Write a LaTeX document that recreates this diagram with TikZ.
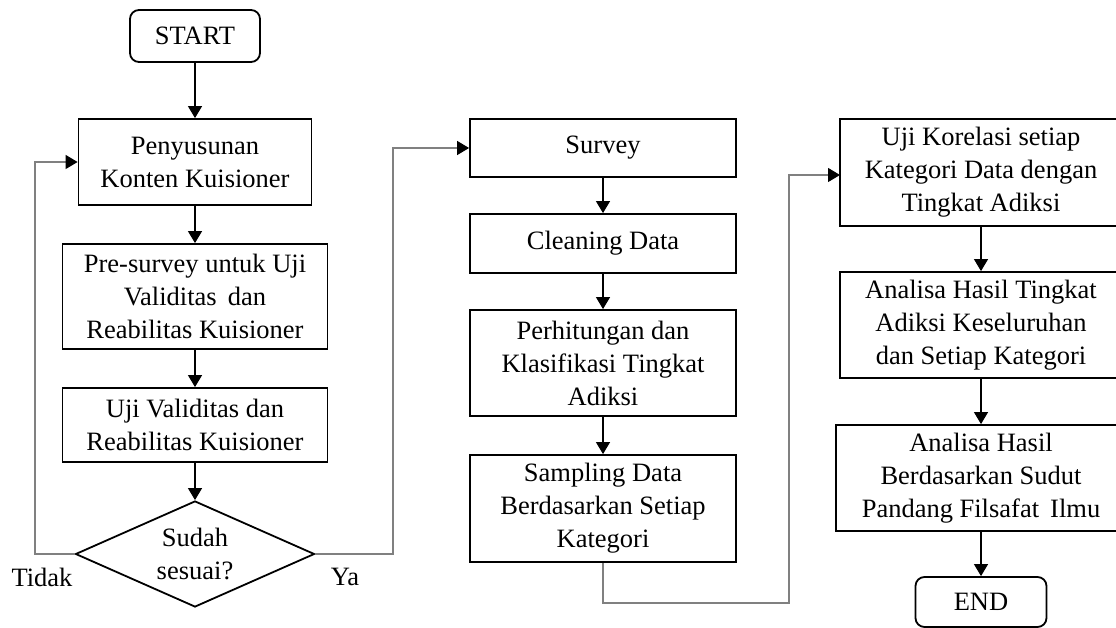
\documentclass[tikz,border=0pt]{standalone}
\usepackage{fontspec}
\setmainfont{Liberation Serif}
\usetikzlibrary{arrows.meta,shapes.geometric}
\begin{document}
\begin{tikzpicture}[x=1pt,y=-1pt,
  box/.style={draw, line width=1.8pt, inner sep=0pt, align=center,
    font=\fontsize{26.5pt}{33pt}\selectfont},
  term/.style={box, rounded corners=9pt},
  dec/.style={draw, line width=1.8pt, diamond, shape aspect=2.25, inner sep=0pt,
    minimum width=239pt, minimum height=106pt, align=center,
    font=\fontsize{26.5pt}{33pt}\selectfont},
  lbl/.style={font=\fontsize{26.5pt}{30pt}\selectfont, inner sep=0pt},
  arr/.style={line width=1.1pt, -{Triangle[length=12pt,width=14pt]}},
  back/.style={line width=1.1pt, draw=black!50, -{Triangle[length=12pt,width=14pt,color=black,fill=black]}}
]
\useasboundingbox (0,0) rectangle (1116,628);

% column 1
\node[term, minimum width=130pt, minimum height=52pt] (start) at (195,36) {START};
\node[box, minimum width=233pt, minimum height=86pt] (n1) at (195,162) {Penyusunan\\Konten Kuisioner};
\node[box, minimum width=265pt, minimum height=105pt] (n2) at (195,296.5) {Pre-survey untuk Uji\\Validitas\, dan\\Reabilitas Kuisioner};
\node[box, minimum width=265pt, minimum height=74pt] (n3) at (195,425) {Uji Validitas dan\\Reabilitas Kuisioner};
\node[dec] (d) at (195,554) {Sudah\\sesuai?};
\node[lbl] (tidak) at (42,577) {Tidak};
\node[lbl] (ya) at (345,577) {Ya};

% column 2
\node[box, minimum width=266pt, minimum height=58pt] (s1) at (603,148) {Survey};
\node[box, minimum width=266pt, minimum height=59pt] (s2) at (603,243.5) {Cleaning Data};
\node[box, minimum width=266pt, minimum height=106pt] (s3) at (603,363) {Perhitungan dan\\Klasifikasi Tingkat\\Adiksi};
\node[box, minimum width=266pt, minimum height=107pt] (s4) at (603,508.5) {Sampling Data\\Berdasarkan Setiap\\Kategori};

% column 3
\node[box, minimum width=282pt, minimum height=107pt] (u1) at (981,172.5) {Uji Korelasi setiap\\Kategori Data dengan\\Tingkat Adiksi};
\node[box, minimum width=282pt, minimum height=106pt] (u2) at (981,325) {Analisa Hasil Tingkat\\Adiksi Keseluruhan\\dan Setiap Kategori};
\node[box, minimum width=290pt, minimum height=106pt] (u3) at (981,478) {Analisa Hasil\\Berdasarkan Sudut\\Pandang Filsafat\, Ilmu};
\node[term, minimum width=131pt, minimum height=50pt] (end) at (981,602) {END};

% helper coordinates
\coordinate (bl1) at (35,554);
\coordinate (bl2) at (35,162);
\coordinate (br1) at (393,554);
\coordinate (br2) at (393,148);
\coordinate (c1) at (603,603);
\coordinate (c2) at (789,603);
\coordinate (c3) at (789,175);
\coordinate (c4) at (840,175);

% connectors
\draw[arr] (start) -- (n1);
\draw[arr] (n1) -- (n2);
\draw[arr] (n2) -- (n3);
\draw[arr] (n3) -- (d);
\draw[back] (d.west) -- (bl1) -- (bl2) -- (n1.west);
\draw[back] (d.east) -- (br1) -- (br2) -- (s1.west);
\draw[arr] (s1) -- (s2);
\draw[arr] (s2) -- (s3);
\draw[arr] (s3) -- (s4);
\draw[back] (s4.south) -- (c1) -- (c2) -- (c3) -- (c4);
\draw[arr] (u1) -- (u2);
\draw[arr] (u2) -- (u3);
\draw[arr] (u3) -- (end);
\end{tikzpicture}
\end{document}
